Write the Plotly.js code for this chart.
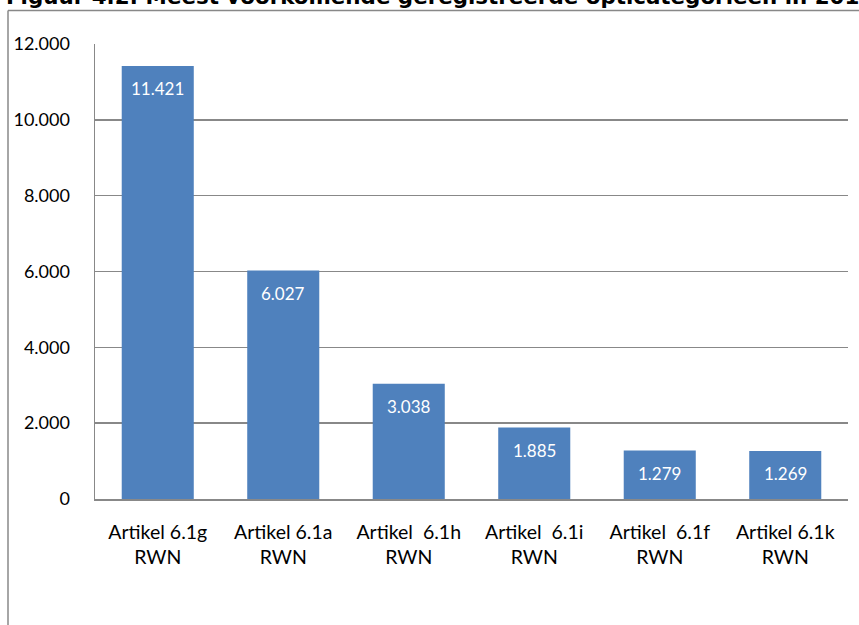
<!DOCTYPE html>
<html><head><meta charset="utf-8">
<script src="https://cdn.plot.ly/plotly-3.0.1.min.js"></script>
<style>html,body{margin:0;padding:0;background:#fff;}</style>
</head><body><div id="chart" style="width:859px;height:625px;"></div>
<script>
const categories = ["Artikel 6.1g<br>RWN", "Artikel 6.1a<br>RWN", "Artikel  6.1h<br>RWN", "Artikel  6.1i<br>RWN", "Artikel  6.1f<br>RWN", "Artikel 6.1k<br>RWN"];
const values = [11421, 6027, 3038, 1885, 1279, 1269];
const yTicks = [0, 2000, 4000, 6000, 8000, 10000, 12000];
const titleText = "Figuur 4.2: Meest voorkomende geregistreerde opticategorieën in 201";

const fmt = new Intl.NumberFormat('nl-NL');
const font = "Lato, 'Open Sans', sans-serif";
const L = 95, R = 11, T = 44, B = 126, W = 859, H = 625;
const pw = W - L - R, ph = H - T - B;

const trace = {
  type: 'bar', x: categories, y: values,
  marker: {color: '#4F81BD'},
  hoverinfo: 'skip'
};

const annotations = values.map((v, i) => ({
  x: categories[i], y: v, xref: 'x', yref: 'y',
  text: fmt.format(v), showarrow: false,
  yanchor: 'middle', yshift: -23,
  font: {family: font, size: 17, color: '#ffffff'}
}));

annotations.push({
  xref: 'paper', yref: 'paper',
  x: (4 - L) / pw, xanchor: 'left',
  y: (H - B + 3) / ph, yanchor: 'middle',
  text: '<b>' + titleText + '</b>', showarrow: false,
  font: {family: "'DejaVu Sans', Verdana, sans-serif", size: 21.4, color: '#000'}
});

const layout = {
  width: W, height: H,
  margin: {l: L, r: R, t: T, b: B},
  paper_bgcolor: '#ffffff', plot_bgcolor: '#ffffff',
  separators: ',.',
  showlegend: false,
  bargap: 0.426,
  xaxis: {
    type: 'category',
    showline: true, linecolor: '#888', linewidth: 1.5,
    showgrid: false, zeroline: false, ticks: '',
    tickfont: {family: font, size: 19.5, color: '#000'},
    ticklabelstandoff: 15,
    fixedrange: true
  },
  yaxis: {
    range: [0, 12000], tickvals: yTicks, tickformat: ',d',
    showline: true, linecolor: '#888', linewidth: 1.5,
    showgrid: true, gridcolor: '#888', gridwidth: 1.5,
    zeroline: false, ticks: '',
    tickfont: {family: font, size: 18, color: '#000'},
    ticklabelstandoff: 20,
    fixedrange: true
  },
  annotations: annotations,
  shapes: [
    {type: 'line', xref: 'paper', yref: 'paper', x0: (8 - L) / pw, x1: 1.2, y0: (H - B - 10.5) / ph, y1: (H - B - 10.5) / ph, line: {color: '#888', width: 1.5}},
    {type: 'line', xref: 'paper', yref: 'paper', x0: (8 - L) / pw, x1: (8 - L) / pw, y0: -0.5, y1: (H - B - 10.5) / ph, line: {color: '#888', width: 1.5}}
  ]
};

Plotly.newPlot('chart', [trace], layout, {staticPlot: true, displayModeBar: false});
</script>
</body></html>
